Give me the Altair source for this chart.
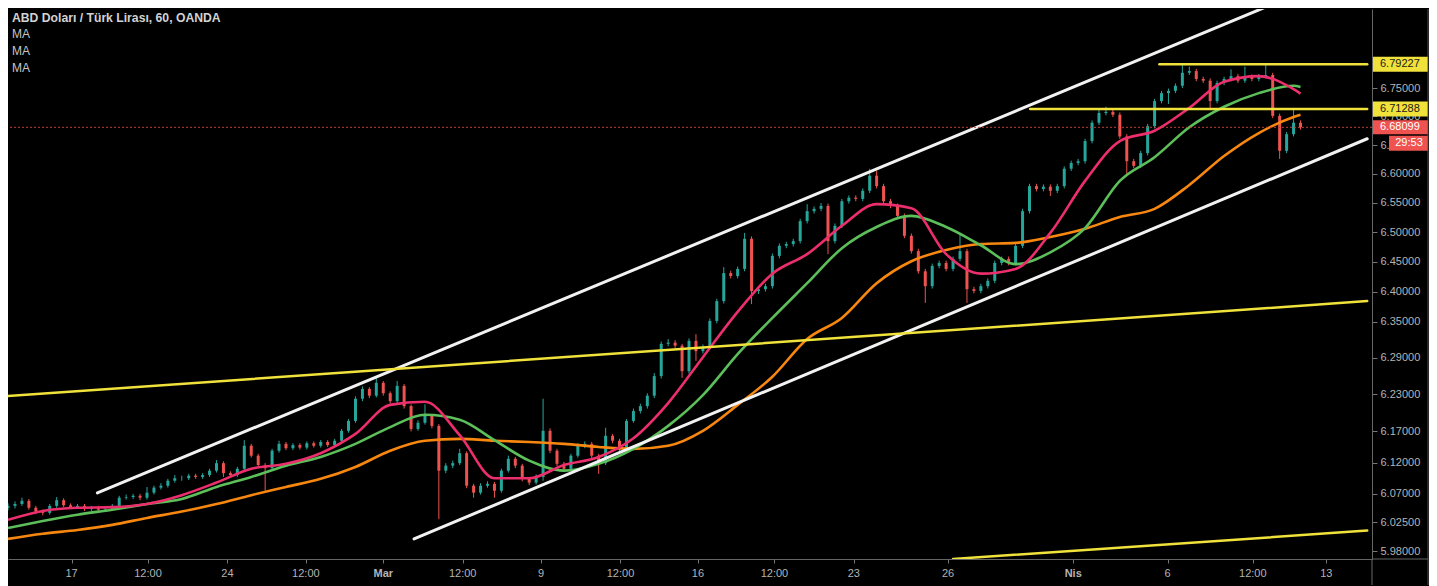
import altair as alt
import pandas as pd

TITLE = "ABD Doları / Türk Lirası, 60, OANDA"
MA_LABELS = ["MA", "MA", "MA"]

# hourly candles (sampled), prices in TRY
OPEN = [6.048, 6.051, 6.054, 6.059, 6.048, 6.042, 6.040, 6.051, 6.060, 6.052,
        6.049, 6.051, 6.046, 6.048, 6.045, 6.046, 6.051, 6.064, 6.065, 6.067,
        6.064, 6.072, 6.080, 6.083, 6.091, 6.095, 6.095, 6.099, 6.097, 6.100,
        6.107, 6.119, 6.103, 6.100, 6.110, 6.147, 6.131, 6.116, 6.111, 6.139,
        6.150, 6.143, 6.148, 6.144, 6.151, 6.147, 6.153, 6.148, 6.155, 6.171,
        6.187, 6.223, 6.239, 6.228, 6.249, 6.232, 6.219, 6.244, 6.211, 6.174,
        6.184, 6.195, 6.179, 6.107, 6.115, 6.119, 6.135, 6.083, 6.072, 6.083,
        6.086, 6.075, 6.107, 6.126, 6.115, 6.094, 6.088, 6.097, 6.171, 6.139,
        6.118, 6.110, 6.131, 6.147, 6.150, 6.131, 6.119, 6.163, 6.155, 6.142,
        6.187, 6.203, 6.211, 6.228, 6.260, 6.313, 6.315, 6.310, 6.268, 6.318,
        6.301, 6.308, 6.351, 6.384, 6.431, 6.426, 6.438, 6.489, 6.401, 6.404,
        6.409, 6.460, 6.477, 6.480, 6.485, 6.519, 6.536, 6.540, 6.545, 6.485,
        6.511, 6.553, 6.559, 6.557, 6.571, 6.597, 6.579, 6.553, 6.545, 6.528,
        6.494, 6.468, 6.434, 6.409, 6.443, 6.448, 6.438, 6.455, 6.468, 6.404,
        6.401, 6.409, 6.418, 6.448, 6.455, 6.448, 6.477, 6.536, 6.579, 6.574,
        6.578, 6.571, 6.579, 6.609, 6.619, 6.622, 6.657, 6.689, 6.706, 6.708,
        6.703, 6.665, 6.622, 6.614, 6.636, 6.683, 6.727, 6.741, 6.745, 6.754,
        6.777, 6.780, 6.766, 6.763, 6.727, 6.759, 6.766, 6.771, 6.763, 6.770,
        6.766, 6.771, 6.773, 6.701, 6.640, 6.669, 6.689]
HIGH = [6.055, 6.058, 6.064, 6.062, 6.051, 6.045, 6.054, 6.065, 6.063, 6.055,
        6.054, 6.054, 6.051, 6.051, 6.049, 6.054, 6.067, 6.069, 6.070, 6.070,
        6.081, 6.083, 6.087, 6.094, 6.100, 6.099, 6.102, 6.102, 6.103, 6.110,
        6.124, 6.122, 6.106, 6.113, 6.156, 6.150, 6.134, 6.119, 6.142, 6.155,
        6.153, 6.151, 6.151, 6.154, 6.154, 6.156, 6.156, 6.158, 6.174, 6.190,
        6.227, 6.243, 6.242, 6.259, 6.252, 6.235, 6.252, 6.247, 6.214, 6.188,
        6.214, 6.198, 6.182, 6.119, 6.123, 6.142, 6.138, 6.086, 6.087, 6.090,
        6.089, 6.110, 6.131, 6.129, 6.118, 6.097, 6.101, 6.223, 6.175, 6.142,
        6.121, 6.134, 6.151, 6.154, 6.153, 6.134, 6.176, 6.166, 6.158, 6.190,
        6.207, 6.215, 6.232, 6.265, 6.317, 6.321, 6.319, 6.313, 6.322, 6.329,
        6.312, 6.355, 6.388, 6.441, 6.435, 6.442, 6.499, 6.493, 6.408, 6.413,
        6.464, 6.481, 6.484, 6.489, 6.523, 6.548, 6.544, 6.550, 6.549, 6.515,
        6.557, 6.563, 6.563, 6.575, 6.609, 6.605, 6.583, 6.557, 6.549, 6.532,
        6.498, 6.472, 6.438, 6.447, 6.452, 6.452, 6.459, 6.497, 6.472, 6.408,
        6.413, 6.422, 6.452, 6.459, 6.459, 6.481, 6.540, 6.583, 6.583, 6.582,
        6.582, 6.583, 6.613, 6.623, 6.626, 6.661, 6.693, 6.713, 6.717, 6.712,
        6.707, 6.669, 6.626, 6.640, 6.687, 6.731, 6.745, 6.749, 6.758, 6.792,
        6.788, 6.784, 6.770, 6.767, 6.763, 6.770, 6.783, 6.775, 6.788, 6.774,
        6.775, 6.792, 6.777, 6.705, 6.673, 6.715, 6.693]
LOW = [6.044, 6.047, 6.051, 6.045, 6.038, 6.036, 6.037, 6.048, 6.049, 6.046,
       6.046, 6.043, 6.043, 6.042, 6.042, 6.043, 6.048, 6.061, 6.062, 6.060,
       6.061, 6.069, 6.077, 6.080, 6.088, 6.091, 6.092, 6.094, 6.094, 6.097,
       6.104, 6.097, 6.096, 6.097, 6.107, 6.128, 6.112, 6.075, 6.108, 6.136,
       6.140, 6.140, 6.141, 6.141, 6.144, 6.144, 6.145, 6.145, 6.152, 6.168,
       6.184, 6.219, 6.224, 6.225, 6.228, 6.215, 6.216, 6.207, 6.170, 6.171,
       6.181, 6.175, 6.030, 6.103, 6.111, 6.116, 6.079, 6.064, 6.069, 6.080,
       6.064, 6.072, 6.104, 6.111, 6.090, 6.084, 6.085, 6.091, 6.135, 6.114,
       6.106, 6.107, 6.128, 6.143, 6.127, 6.102, 6.116, 6.151, 6.138, 6.139,
       6.184, 6.199, 6.207, 6.224, 6.256, 6.309, 6.306, 6.257, 6.264, 6.285,
       6.297, 6.304, 6.347, 6.380, 6.422, 6.422, 6.434, 6.379, 6.396, 6.400,
       6.405, 6.456, 6.473, 6.476, 6.481, 6.515, 6.532, 6.536, 6.463, 6.481,
       6.507, 6.549, 6.553, 6.553, 6.567, 6.575, 6.549, 6.541, 6.524, 6.490,
       6.464, 6.430, 6.381, 6.405, 6.439, 6.434, 6.434, 6.451, 6.381, 6.397,
       6.397, 6.405, 6.414, 6.444, 6.444, 6.444, 6.473, 6.532, 6.570, 6.570,
       6.562, 6.567, 6.575, 6.605, 6.615, 6.618, 6.653, 6.685, 6.702, 6.699,
       6.661, 6.597, 6.610, 6.610, 6.632, 6.679, 6.723, 6.722, 6.741, 6.750,
       6.773, 6.762, 6.759, 6.715, 6.723, 6.755, 6.762, 6.759, 6.759, 6.762,
       6.762, 6.767, 6.697, 6.626, 6.636, 6.665, 6.677]
CLOSE = [6.051, 6.054, 6.059, 6.048, 6.042, 6.040, 6.051, 6.060, 6.052, 6.049,
         6.051, 6.046, 6.048, 6.045, 6.046, 6.051, 6.064, 6.065, 6.067, 6.064,
         6.072, 6.080, 6.083, 6.091, 6.095, 6.095, 6.099, 6.097, 6.100, 6.107,
         6.119, 6.103, 6.100, 6.110, 6.147, 6.131, 6.116, 6.111, 6.139, 6.150,
         6.143, 6.148, 6.144, 6.151, 6.147, 6.153, 6.148, 6.155, 6.171, 6.187,
         6.223, 6.239, 6.228, 6.249, 6.232, 6.219, 6.244, 6.211, 6.174, 6.184,
         6.195, 6.179, 6.107, 6.115, 6.119, 6.135, 6.083, 6.072, 6.083, 6.086,
         6.075, 6.107, 6.126, 6.115, 6.094, 6.088, 6.097, 6.171, 6.139, 6.118,
         6.110, 6.131, 6.147, 6.150, 6.131, 6.119, 6.163, 6.155, 6.142, 6.187,
         6.203, 6.211, 6.228, 6.260, 6.313, 6.315, 6.310, 6.268, 6.318, 6.301,
         6.308, 6.351, 6.384, 6.431, 6.426, 6.438, 6.489, 6.401, 6.404, 6.409,
         6.460, 6.477, 6.480, 6.485, 6.519, 6.536, 6.540, 6.545, 6.485, 6.511,
         6.553, 6.559, 6.557, 6.571, 6.597, 6.579, 6.553, 6.545, 6.528, 6.494,
         6.468, 6.434, 6.409, 6.443, 6.448, 6.438, 6.455, 6.468, 6.404, 6.401,
         6.409, 6.418, 6.448, 6.455, 6.448, 6.477, 6.536, 6.579, 6.574, 6.578,
         6.571, 6.579, 6.609, 6.619, 6.622, 6.657, 6.689, 6.706, 6.708, 6.703,
         6.665, 6.622, 6.614, 6.636, 6.683, 6.727, 6.741, 6.745, 6.754, 6.777,
         6.780, 6.766, 6.763, 6.727, 6.759, 6.766, 6.771, 6.763, 6.770, 6.766,
         6.771, 6.773, 6.701, 6.640, 6.669, 6.689, 6.681]
BAR = list(range(len(CLOSE)))

# moving averages, read at every 5th candle
MA_BAR = [0, 5, 10, 15, 20, 25, 30, 35, 40, 45, 50, 55, 60, 65, 70, 75, 80, 85,
          90, 95, 100, 105, 110, 115, 120, 125, 130, 135, 140, 145, 150, 155,
          160, 165, 170, 175, 180, 185, 186]
MA_FAST = [6.029, 6.043, 6.048, 6.049, 6.054, 6.068, 6.088, 6.110, 6.118, 6.135,
           6.166, 6.213, 6.218, 6.164, 6.095, 6.095, 6.116, 6.129, 6.159, 6.216,
           6.291, 6.366, 6.430, 6.463, 6.511, 6.548, 6.541, 6.463, 6.430, 6.438,
           6.499, 6.588, 6.657, 6.675, 6.715, 6.761, 6.771, 6.748, 6.740]
MA_MID = [6.016, 6.027, 6.037, 6.045, 6.054, 6.062, 6.081, 6.097, 6.115, 6.129,
          6.150, 6.177, 6.197, 6.189, 6.156, 6.123, 6.107, 6.118, 6.142, 6.179,
          6.229, 6.296, 6.356, 6.414, 6.473, 6.509, 6.528, 6.509, 6.478, 6.446,
          6.466, 6.507, 6.588, 6.629, 6.681, 6.717, 6.741, 6.754, 6.752]
MA_SLOW = [5.999, 6.007, 6.013, 6.021, 6.032, 6.042, 6.054, 6.068, 6.081, 6.094,
           6.113, 6.139, 6.155, 6.158, 6.155, 6.153, 6.150, 6.145, 6.142, 6.147,
           6.171, 6.213, 6.259, 6.321, 6.356, 6.414, 6.451, 6.470, 6.480, 6.482,
           6.492, 6.506, 6.526, 6.540, 6.581, 6.631, 6.671, 6.699, 6.703]

X_TICK_BARS = [9.14, 20.14, 31.57, 42.86, 54.0, 65.43, 76.71, 88.14, 99.29,
               110.29, 121.71, 135.29, 153.29, 166.86, 179.14, 189.71]
X_TICK_LABELS = ["17", "12:00", "24", "12:00", "Mar", "12:00", "9", "12:00", "16",
                 "12:00", "23", "26", "Nis", "6", "12:00", "13"]
MONTH_LABELS = ["Mar", "Nis"]
Y_TICKS = [5.98, 6.025, 6.07, 6.12, 6.17, 6.23, 6.29, 6.35, 6.40, 6.45, 6.50,
           6.55, 6.60, 6.65, 6.70, 6.75]

# drawn channel / trend / level lines (start bar, start price, end bar, end price)
DRAW_BAR1 = [12.86, 58.43, 0.0, 136.0, 165.7, 147.1]
DRAW_P1 = [6.0715, 5.999, 6.2275, 5.9675, 6.79227, 6.71288]
DRAW_BAR2 = [182.43, 195.6, 195.6, 195.6, 195.6, 195.6]
DRAW_P2 = [6.902, 6.661, 6.384, 6.012, 6.79227, 6.71288]
DRAW_KIND = ["channel", "channel", "trend", "trend", "level", "level"]

LAST_PRICE = 6.68099
LEVEL_PRICES = [6.79227, 6.71288]
COUNTDOWN = "29:53"

FONT = "Liberation Sans, Arial, sans-serif"
UP, DOWN = "#26a69a", "#ef5350"
WHITE, YELLOW = "#f2f2f2", "#f0e23a"
MA_COLORS = {"slow": "#f7870f", "mid": "#5cbf5a", "fast": "#ec2f6c"}
LABEL_GREY = "#b4b4b4"

xs = alt.Scale(domain=[0.714, 195.57], nice=False, zero=False)
ys = alt.Scale(type="log", domain=[5.9675, 6.891], nice=False, zero=False)

# the same axis definitions are given to every layer so that they merge cleanly
X_AXIS = dict(values=X_TICK_BARS, labels=False, tickSize=4, tickColor="#777777",
              domainColor="#666666", grid=False, title=None, minExtent=26, maxExtent=26)
Y_AXIS = dict(orient="right", values=Y_TICKS, format=".5f", labelColor=LABEL_GREY,
              labelFont=FONT, labelFontSize=11, tickSize=5, tickColor="#777777",
              domainColor="#666666", labelPadding=3, labelFlush=False,
              labelOverlap=False, grid=False, title=None, minExtent=57, maxExtent=57)


def X(field):
    return alt.X(field, type="quantitative", scale=xs, axis=alt.Axis(**X_AXIS))


def Y(field):
    return alt.Y(field, type="quantitative", scale=ys, axis=alt.Axis(**Y_AXIS))


candles = pd.DataFrame({"bar": BAR, "open": OPEN, "high": HIGH, "low": LOW, "close": CLOSE})
candles["col"] = [UP if c >= o else DOWN for o, c in zip(OPEN, CLOSE)]

wicks = alt.Chart(candles).mark_rule(strokeWidth=1, clip=True).encode(
    x=X("bar"), y=Y("low"), y2="high", color=alt.Color("col:N", scale=None))
bodies = alt.Chart(candles).mark_bar(size=3, clip=True).encode(
    x=X("bar"), y=Y("open"), y2="close", color=alt.Color("col:N", scale=None))

ma = pd.DataFrame({
    "bar": MA_BAR * 3,
    "value": MA_SLOW + MA_MID + MA_FAST,
    "series": ["slow"] * len(MA_BAR) + ["mid"] * len(MA_BAR) + ["fast"] * len(MA_BAR),
})
ma["col"] = [MA_COLORS[s] for s in ma["series"]]
ma_lines = alt.Chart(ma).mark_line(strokeWidth=2.6, interpolate="monotone", clip=True).encode(
    x=X("bar"), y=Y("value"), color=alt.Color("col:N", scale=None), detail="series:N")

draw = pd.DataFrame({"b1": DRAW_BAR1, "p1": DRAW_P1, "b2": DRAW_BAR2, "p2": DRAW_P2, "kind": DRAW_KIND})
draw["col"] = [WHITE if k == "channel" else YELLOW for k in DRAW_KIND]
draw["w"] = [3 if k == "channel" else 2.5 for k in DRAW_KIND]
draw_lines = alt.Chart(draw).mark_rule(clip=True, strokeCap="round").encode(
    x=X("b1"), x2="b2", y=Y("p1"), y2="p2",
    color=alt.Color("col:N", scale=None), size=alt.Size("w:Q", scale=None))

last_df = pd.DataFrame({"p": [LAST_PRICE], "label": [f"{LAST_PRICE:.5f}"], "cd": [COUNTDOWN]})
last_line = alt.Chart(last_df).mark_rule(strokeDash=[2, 2], color="#c23f3a", strokeWidth=1,
                                         clip=True).encode(y=Y("p"))

lvl_df = pd.DataFrame({"p": LEVEL_PRICES, "label": [f"{p:.5f}" for p in LEVEL_PRICES]})
lvl_box = alt.Chart(lvl_df).mark_tick(orient="horizontal", size=55, thickness=15, opacity=1,
                                      color=YELLOW).encode(x=alt.value(1392.5), y=Y("p"))
lvl_txt = alt.Chart(lvl_df).mark_text(align="left", baseline="middle", font=FONT, fontSize=11,
                                      color="#1a1a1a").encode(
    x=alt.value(1372), y=Y("p"), text="label:N")

last_box = alt.Chart(last_df).mark_tick(orient="horizontal", size=55, thickness=14, opacity=1,
                                        color="#ef5350").encode(x=alt.value(1392.5), y=Y("p"))
last_txt = alt.Chart(last_df).mark_text(align="left", baseline="middle", font=FONT, fontSize=11,
                                        color="#ffffff").encode(
    x=alt.value(1372), y=Y("p"), text="label:N")
cd_box = alt.Chart(last_df).mark_tick(orient="horizontal", size=39, thickness=15, opacity=1,
                                      color="#ef5350", yOffset=16).encode(
    x=alt.value(1400.5), y=Y("p"))
cd_txt = alt.Chart(last_df).mark_text(align="center", baseline="middle", font=FONT, fontSize=11,
                                      color="#ffffff", yOffset=16).encode(
    x=alt.value(1401), y=Y("p"), text="cd:N")

# time-axis labels (placed on the bar scale)
xl = pd.DataFrame({"bar": X_TICK_BARS, "label": X_TICK_LABELS})
xl_normal = xl[~xl["label"].isin(MONTH_LABELS)]
xl_month = xl[xl["label"].isin(MONTH_LABELS)]
xlab1 = alt.Chart(xl_normal).mark_text(align="center", baseline="middle", font=FONT, fontSize=11,
                                       color=LABEL_GREY).encode(
    x=X("bar"), y=alt.value(565), text="label:N")
xlab2 = alt.Chart(xl_month).mark_text(align="center", baseline="middle", font=FONT, fontSize=11,
                                      fontWeight="bold", color=LABEL_GREY).encode(
    x=X("bar"), y=alt.value(565), text="label:N")

one = pd.DataFrame({"t": [TITLE]})
title_txt = alt.Chart(one).mark_text(align="left", baseline="middle", font=FONT, fontSize=12.2,
                                     fontWeight="bold", color="#d2d2d2").encode(
    x=alt.value(4), y=alt.value(9), text="t:N")
ma_txts = [
    alt.Chart(pd.DataFrame({"t": [MA_LABELS[i]]})).mark_text(
        align="left", baseline="middle", font=FONT, fontSize=12, color="#c4c4c4"
    ).encode(x=alt.value(4), y=alt.value(25 + 17 * i), text="t:N")
    for i in range(3)
]

frame = pd.DataFrame({"a": [0]})
border = alt.Chart(frame).mark_rule(color="#555555", strokeWidth=1).encode(
    x=alt.value(1420), y=alt.value(0), y2=alt.value(576))
axis_ext_h = alt.Chart(frame).mark_rule(color="#666666", strokeWidth=1).encode(
    x=alt.value(1364), x2=alt.value(1420), y=alt.value(550))
axis_ext_v = alt.Chart(frame).mark_rule(color="#666666", strokeWidth=1).encode(
    x=alt.value(1364), y=alt.value(550), y2=alt.value(576))

chart = alt.layer(
    wicks, bodies, ma_lines, draw_lines, last_line,
    lvl_box, lvl_txt, last_box, last_txt, cd_box, cd_txt,
    xlab1, xlab2, title_txt, *ma_txts, border, axis_ext_h, axis_ext_v,
).properties(
    width=1364, height=550, background="#000000", padding=0,
).configure_view(stroke=None, fill="#000000")

chart.save("out.html", embed_options={"renderer": "svg", "actions": False})
